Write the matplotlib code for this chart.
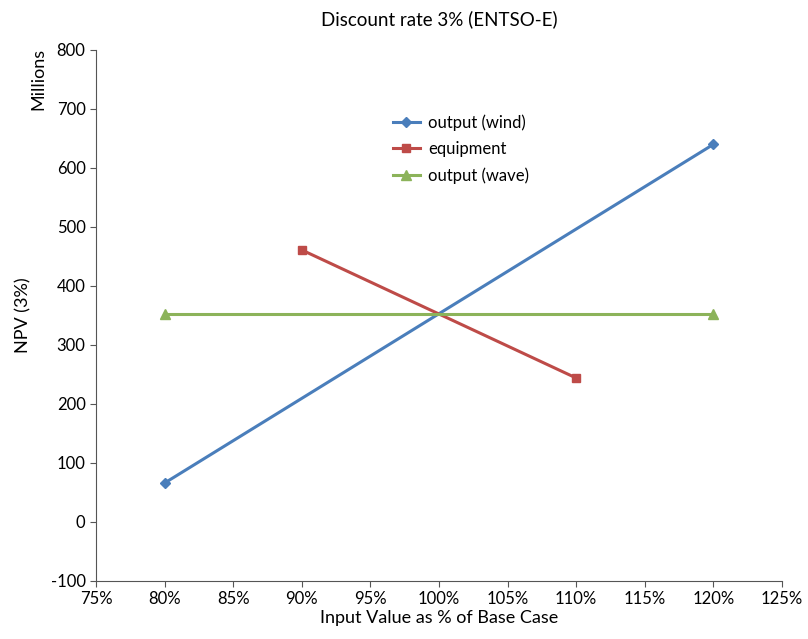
import numpy as np
import matplotlib.pyplot as plt
from matplotlib.ticker import FuncFormatter

plt.rcParams['font.family'] = ['Lato', 'DejaVu Sans']
plt.rcParams['axes.unicode_minus'] = False

# data (input value as % of base case, NPV in millions)
wind_x = [80, 120]
wind_y = [66, 640]
equip_x = [90, 110]
equip_y = [461, 244]
wave_x = [80, 120]
wave_y = [353, 353]

fig = plt.figure(figsize=(8.08, 6.39), dpi=100)
ax = fig.add_axes([0.1188, 0.0908, 0.849, 0.831])

ax.plot(wind_x, wind_y, color='#4A7EBB', lw=2.2, marker='D', ms=5.5, label='output (wind)')
ax.plot(equip_x, equip_y, color='#BE4B48', lw=2.2, marker='s', ms=6, label='equipment')
ax.plot(wave_x, wave_y, color='#8CB35A', lw=2.2, marker='^', ms=7, label='output (wave)')

ax.set_xlim(75, 125)
ax.set_ylim(-100, 800)
ax.set_xticks(np.arange(75, 126, 5))
ax.set_yticks(np.arange(-100, 801, 100))
ax.xaxis.set_major_formatter(FuncFormatter(lambda v, p: '%d%%' % v))
ax.tick_params(direction='out', length=4, labelsize=12, color='#555555')
for s in ['top', 'right']:
    ax.spines[s].set_visible(False)
for s in ['left', 'bottom']:
    ax.spines[s].set_color('#555555')

ax.set_title('Discount rate 3% (ENTSO-E)', fontsize=13.5, pad=18)
ax.set_xlabel('Input Value as % of Base Case', fontsize=13, labelpad=2)
ax.set_ylabel('NPV (3%)', fontsize=13, labelpad=14)
fig.text(0.048, 0.925, 'Millions', rotation=90, ha='center', va='top', fontsize=13)

ax.legend(loc='upper left', bbox_to_anchor=(0.468, 0.845), bbox_transform=fig.transFigure,
          frameon=False, fontsize=12, handlelength=1.6, handletextpad=0.5, labelspacing=0.62)

fig.savefig('out.png', dpi=100)
